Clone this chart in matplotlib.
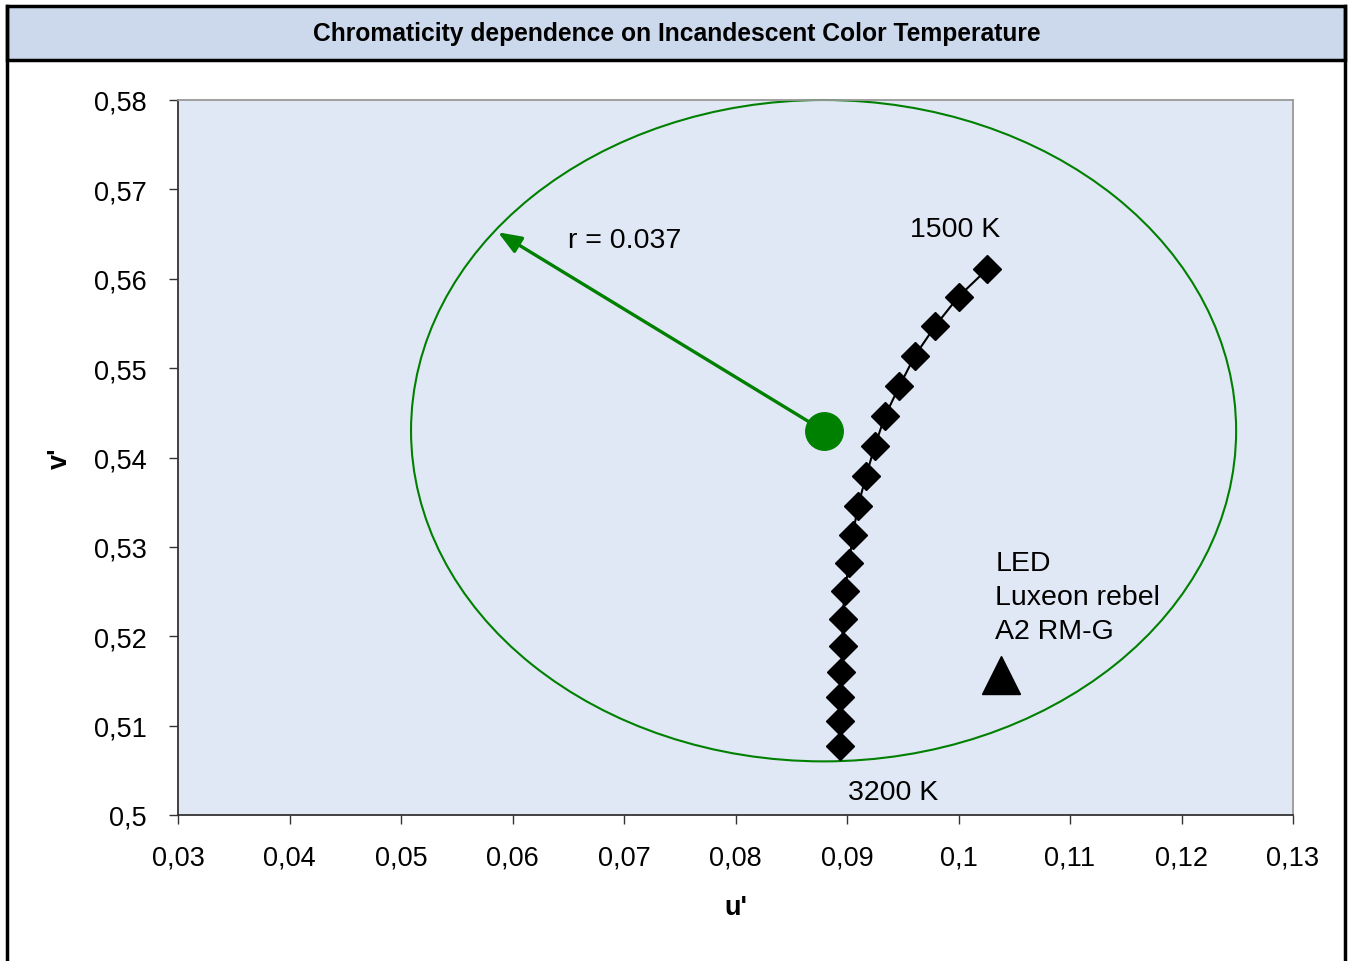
import numpy as np
import matplotlib.pyplot as plt
from matplotlib.patches import Rectangle, Circle
from matplotlib.ticker import FuncFormatter

# Planckian locus points, 1500 K .. 3200 K (u', v')
locus_u = [0.1026, 0.1000, 0.0979, 0.0961, 0.0947, 0.0934, 0.0925, 0.0917, 0.0910,
           0.0905, 0.0902, 0.0898, 0.0896, 0.0896, 0.0895, 0.0894, 0.0894, 0.0894]
locus_v = [0.5611, 0.5580, 0.5547, 0.5514, 0.5480, 0.5446, 0.5413, 0.5379, 0.5346,
           0.5313, 0.5282, 0.5251, 0.5219, 0.5189, 0.5160, 0.5132, 0.5105, 0.5077]

center_u, center_v = 0.0879, 0.5430
radius = 0.037
arrow_tip = (0.0587, 0.5652)

led_u, led_v = 0.1038, 0.5157

x_ticks = [0.03, 0.04, 0.05, 0.06, 0.07, 0.08, 0.09, 0.10, 0.11, 0.12, 0.13]
y_ticks = [0.50, 0.51, 0.52, 0.53, 0.54, 0.55, 0.56, 0.57, 0.58]

plt.rcParams['font.family'] = ['Liberation Sans', 'DejaVu Sans']

fig = plt.figure(figsize=(13.5, 9.62), dpi=100)
W, H = 1350, 962

# frame and title bar
fig.add_artist(Rectangle((7 / W, 1 - 61 / H), 1338 / W, 54 / H, transform=fig.transFigure,
                         facecolor='#ccd9ec', edgecolor='black', linewidth=2.5))
fig.add_artist(plt.Line2D([7 / W, 7 / W], [0, 1 - 7 / H], transform=fig.transFigure,
                          color='black', linewidth=2.5))
fig.add_artist(plt.Line2D([1345 / W, 1345 / W], [0, 1 - 7 / H], transform=fig.transFigure,
                          color='black', linewidth=2.5))
fig.text(677 / W, 1 - 34 / H, 'Chromaticity dependence on Incandescent Color Temperature',
         ha='center', va='center', fontsize=17.7, fontweight='bold')

ax = fig.add_axes([178 / W, 1 - 816 / H, (1293 - 178) / W, (816 - 101) / H])
ax.set_facecolor('#e1e8f5')
ax.set_xlim(0.03, 0.13)
ax.set_ylim(0.50, 0.58)
ax.set_xticks(x_ticks)
ax.set_yticks(y_ticks)
fmt = FuncFormatter(lambda v, p: ('%g' % round(v, 3)).replace('.', ','))
ax.xaxis.set_major_formatter(fmt)
ax.yaxis.set_major_formatter(fmt)
ax.tick_params(direction='out', length=6.5, width=1, labelsize=19.5, color='#333333')
ax.tick_params(axis='x', pad=15)
ax.tick_params(axis='y', pad=16)
for s in ['top', 'right']:
    ax.spines[s].set_color('#999999')
for s in ['left', 'bottom']:
    ax.spines[s].set_color('#333333')
for s in ax.spines.values():
    s.set_linewidth(1.3)

ax.set_xlabel("u'", fontsize=19.5, fontweight='bold', labelpad=17)
ax.set_ylabel("v'", fontsize=19.5, fontweight='bold', labelpad=15)

# circle
circ = Circle((center_u, center_v), radius, fill=False, edgecolor='#008000', linewidth=1.5,
              clip_on=False, zorder=2)
ax.add_patch(circ)

# radius arrow
ax.annotate('', xy=arrow_tip, xytext=(center_u, center_v),
            arrowprops=dict(arrowstyle='-|>,head_length=1.4,head_width=0.55',
                            color='#008000', linewidth=2.4, shrinkA=0, shrinkB=0), zorder=3)
ax.plot([center_u], [center_v], 'o', color='#008000', markersize=27, zorder=4)
ax.text(0.0650, 0.5643, 'r = 0.037', fontsize=20.5, ha='left', va='center')

# locus
ax.plot(locus_u, locus_v, '-', color='black', linewidth=1.5, marker='D', markersize=14,
        markerfacecolor='black', markeredgecolor='black', zorder=5)
ax.text(0.0997, 0.5656, '1500 K', fontsize=20.5, ha='center', va='center')
ax.text(0.0941, 0.5026, '3200 K', fontsize=20.5, ha='center', va='center')

# LED
ax.plot([led_u], [led_v], '^', color='black', markersize=28, zorder=5)
ax.text(0.1033, 0.5244, 'LED\nLuxeon rebel\nA2 RM-G', fontsize=20.5, ha='left', va='center',
        linespacing=1.4)

fig.savefig('out.png', dpi=100)
